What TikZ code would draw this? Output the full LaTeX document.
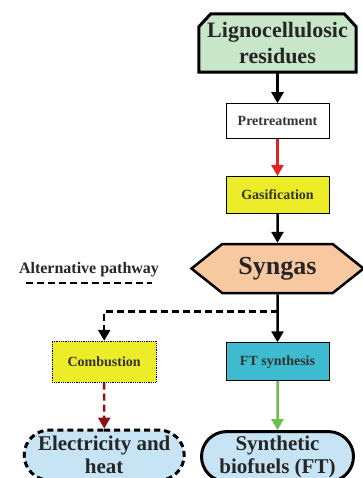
\documentclass[tikz,border=0pt]{standalone}
\usepackage{fontspec}
\setmainfont{Liberation Serif}
\usetikzlibrary{shapes.geometric, shapes.misc, shapes.symbols, arrows.meta, positioning, backgrounds}
\definecolor{ligGreen}{HTML}{C8E6C8}
\definecolor{gasYellow}{HTML}{ECEC28}
\definecolor{synPeach}{HTML}{F8C8A0}
\definecolor{ftTeal}{HTML}{3CBCCE}
\definecolor{prodBlue}{HTML}{C6E4F4}
\definecolor{arrRed}{HTML}{E42420}
\definecolor{arrDark}{HTML}{8A1414}
\definecolor{arrGreen}{HTML}{6CC04A}
\tikzstyle{flow} = [line width=2.5pt, -{Triangle[width=12pt,length=11pt]}]
\tikzstyle{alt flow} = [flow, dash pattern=on 7pt off 4pt]

\begin{document}
\begin{tikzpicture}[
        x=1pt, y=-1pt,
        node distance=31pt,
        stage/.style={rectangle, draw, line width=0.8pt, minimum width=103pt, minimum height=36pt, inner sep=0pt, align=center, font=\bfseries\fontsize{14}{16}\selectfont, text=black!80},
        product/.style={rounded rectangle, draw, line width=3pt, fill=prodBlue, minimum height=50pt, inner sep=0pt, align=center, font=\bfseries\fontsize{21}{23}\selectfont, text=black!85}
        ]
        \useasboundingbox (0,0) rectangle (362,478);

        \node[rectangle, minimum width=157pt, minimum height=58pt, inner sep=0pt, align=center, font=\bfseries\fontsize{22}{26}\selectfont, text=black!85] (residues) at (277.5,43) {Lignocellulosic\\residues};
        \begin{pgfonlayer}{background}
            % chamfered outline round the feedstock
            \draw[line width=3pt, fill=ligGreen, line join=miter] (residues.south west) -- ([yshift=-13pt]residues.north west) -- ([xshift=12pt]residues.north west) -- ([xshift=-12pt]residues.north east) -- ([yshift=-13pt]residues.north east) -- (residues.south east) -- cycle;
        \end{pgfonlayer}
        \node[stage, fill=white, minimum height=35pt, below=31pt of residues] (pretreatment) {Pretreatment};
        \node[stage, fill=gasYellow, minimum height=37pt, below=37pt of pretreatment] (gasification) {Gasification};
        \node[signal, signal to=west and east, signal pointer angle=77, draw, line width=2.5pt, fill=synPeach, minimum width=172pt, minimum height=49pt, inner sep=0pt, font=\bfseries\fontsize{26}{30}\selectfont, text=black!85, below=29pt of gasification] (syngas) {Syngas};
        \node[stage, fill=ftTeal, minimum height=38pt, below=48pt of syngas] (ft_synthesis) {FT synthesis};
        \node[stage, fill=gasYellow, densely dotted, minimum width=104pt, minimum height=41pt, left=69pt of ft_synthesis] (combustion) {Combustion};
        \node[product, minimum width=152pt, below=49pt of ft_synthesis] (biofuels) {Synthetic\\biofuels (FT)};
        \node[product, dash pattern=on 6pt off 4pt, minimum width=160pt, below=46pt of combustion] (power) {Electricity and\\heat};

        \node[font=\bfseries\fontsize{16}{18}\selectfont, text=black!85] (legend) at (89,270) {Alternative pathway};
        \draw[line width=2.5pt, dash pattern=on 7pt off 4pt] (26,283) -- (152,283);

        \coordinate (split) at ([yshift=-17pt]syngas.south);

        \draw[flow] (residues) -- (pretreatment);
        \draw[flow, arrRed] (pretreatment) -- (gasification);
        \draw[flow] (gasification) -- (syngas);
        \draw[flow] (syngas) -- (ft_synthesis);
        \draw[alt flow] (split) -| (combustion);
        \draw[alt flow, arrDark] (combustion) -- (power);
        \draw[flow, arrGreen] (ft_synthesis) -- (biofuels);

    \end{tikzpicture}
\end{document}
